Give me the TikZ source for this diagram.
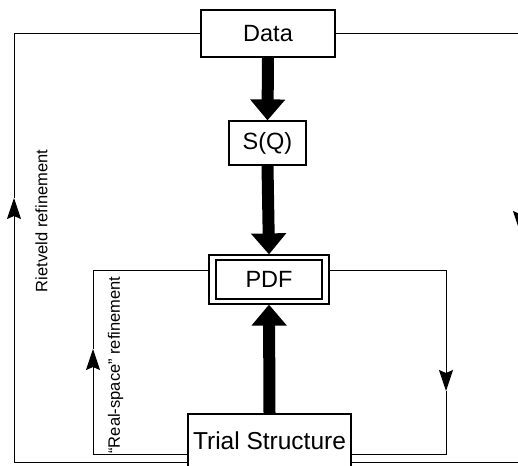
\documentclass[tikz,border=0pt]{standalone}
\usepackage{fontspec}
\setmainfont{Liberation Sans}
\usetikzlibrary{arrows.meta}
\tikzset{
  box/.style={draw, line width=1.2pt, fill=white, inner sep=0pt},
  boxfont/.style={font=\fontsize{23.5}{28}\selectfont},
  bigarrow/.style={line width=12pt, -{Triangle[width=34pt,length=21pt]}},
  loop/.style={line width=1pt},
  looparrow/.style={line width=1pt, -{Stealth[width=14pt,length=21pt,inset=3pt]}},
  lab/.style={font=\fontsize{16.5}{20}\selectfont, rotate=90, inner sep=0pt},
}
\begin{document}
\begin{tikzpicture}[x=1pt, y=-1pt]
\useasboundingbox (0,0) rectangle (518,465);
% boxes
\node[box, boxfont, minimum width=134pt, minimum height=47pt] (data) at (268,33.5) {Data};
\node[box, boxfont, minimum width=77pt, minimum height=44pt] (sq) at (267.5,143) {S(Q)};
\node[box, minimum width=120pt, minimum height=49pt] (pdf) at (269,279.5) {};
\node[box, boxfont, minimum width=106pt, minimum height=39pt] (pdfin) at (269,279.5) {PDF};
\node[box, minimum width=163pt, minimum height=64pt] (trial) at (269.5,446) {};
\node[inner sep=0pt, font=\fontsize{24.5}{28}\selectfont] (trialtxt) at (269.5,441) {Trial Structure};
% thick arrows
\draw[bigarrow] (data.south) -- (sq.north);
\draw[bigarrow] (sq.south) -- (pdf.north);
\draw[bigarrow] (trial.north) -- (pdf.south);
% outer loop coordinates
\coordinate (oTL) at (14,33.5);
\coordinate (oBL) at (14,462);
\coordinate (oLa) at (14,198);
\coordinate (oTR) at (520,33.5);
\coordinate (oBR) at (520,462);
\coordinate (oRa) at (520,232);
% inner loop coordinates
\coordinate (iTL) at (93,270);
\coordinate (iBL) at (93,454);
\coordinate (iLa) at (93,349);
\coordinate (iTR) at (446,270);
\coordinate (iBR) at (446,454);
\coordinate (iRa) at (446,391);
% outer loop
\draw[looparrow] (trial.west |- oBL) -- (oBL) -- (oLa);
\draw[loop] (oLa) -- (oTL) -- (data.west);
\draw[looparrow] (data.east) -- (oTR) -- (oRa);
\draw[loop] (oRa) -- (oBR) -- (trial.east |- oBR);
% inner loop
\draw[looparrow] (trial.west |- iBL) -- (iBL) -- (iLa);
\draw[loop] (iLa) -- (iTL) -- (pdf.west |- iTL);
\draw[looparrow] (pdf.east |- iTR) -- (iTR) -- (iRa);
\draw[loop] (iRa) -- (iBR) -- (trial.east |- iBR);
% labels
\node[lab] (rietveld) at (41.5,221) {Rietveld refinement};
\node[lab] (realspace) at (115.5,365) {“Real-space” refinement};
\end{tikzpicture}
\end{document}
